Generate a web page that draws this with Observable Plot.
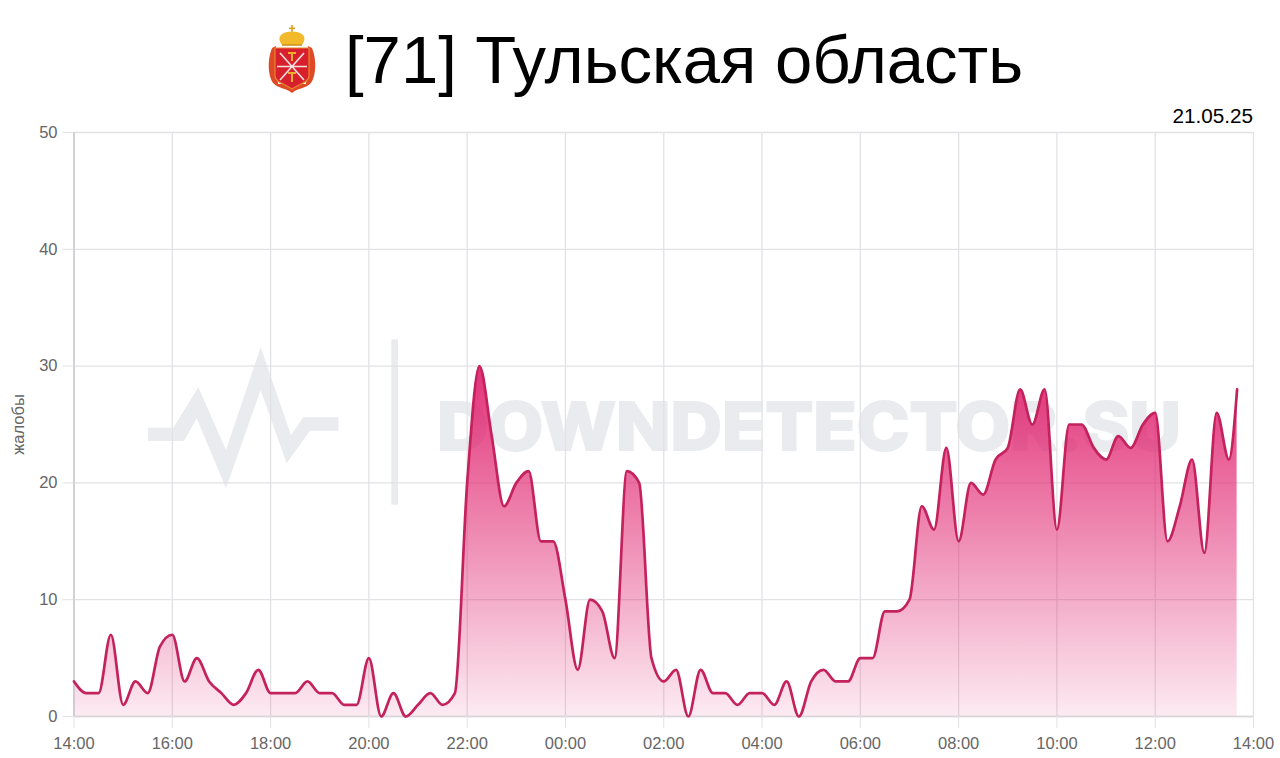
<!DOCTYPE html>
<html lang="ru">
<head>
<meta charset="utf-8">
<script src="https://cdn.jsdelivr.net/npm/d3@7"></script>
<script src="https://cdn.jsdelivr.net/npm/@observablehq/plot@0.6"></script>
<style>
html,body{margin:0;padding:0;background:#fff;overflow:hidden;font-family:"Liberation Sans",Arial,sans-serif}
#page{position:relative;width:1280px;height:758px}
#head{height:100px;position:relative}
#title{position:absolute;left:345px;top:16px;font-size:67px;line-height:88px;white-space:nowrap;color:#000}
#emblem{position:absolute;left:262px;top:22px;width:60px;height:74px}
#date{position:absolute;right:27px;top:104px;font-size:20.7px;line-height:24px;color:#000;z-index:3}
#mark{position:absolute;left:0;top:0;width:1280px;height:758px}
#chart{position:absolute;left:0;top:100px}
</style>
</head>
<body>
<div id="page">
<svg id="mark" viewBox="0 0 1280 758">
  <g fill="#e9ebef" transform="translate(130,330) scale(0.3333)">
    <polygon points="54,293 130,293 205,172 288,360 392,52 483,315 520,262 625,262 625,302 540,302 470,400 392,180 288,475 200,265 162,333 54,333"/>
    <rect x="784" y="28" width="20" height="496"/>
  </g>
  <text x="437" y="450" fill="#e9ebef" stroke="#e9ebef" stroke-width="2" font-family="Inter" font-weight="800" font-size="66" textLength="744" lengthAdjust="spacingAndGlyphs">DOWNDETECTOR.SU</text>
</svg>
<div id="head">
  <svg id="emblem" viewBox="0 0 60 74">
    <rect x="29.2" y="3" width="1.6" height="9" fill="#e0a020"/><rect x="27" y="5.5" width="6" height="1.6" fill="#e0a020"/>
    <path d="M20 23 C13 14 22 9 30 10 C38 9 47 14 40 23Z" fill="#f2b92a"/>
    <path d="M20 23 H40" stroke="#c8901a" stroke-width="1.5"/>
    <path d="M10 26 C5 38 6 54 11 61 C17 67 25 66 30 71 C35 66 43 67 49 61 C54 54 55 38 50 26 L46 24 L44 62 L16 62 L14 24Z" fill="#df4a26"/>
    <path d="M13 26 H47 V54 C47 60 37 62 30 67 C23 62 13 60 13 54Z" fill="#d81f2e"/>
    <path d="M13 26 H47 V54 C47 60 37 62 30 67 C23 62 13 60 13 54Z" fill="none" stroke="#e8852c" stroke-width="1.2"/>
    <path d="M18 31 L42 58 M42 31 L18 58 M15 44.5 H45" stroke="#f6e2dc" stroke-width="1.6"/>
    <path d="M26 31 H34 M30 31 V39 M26 51 H34 M30 51 V60" stroke="#f0ae2a" stroke-width="2"/>
  </svg>
  <div id="title">[71] Тульская область</div>
</div>
<div id="date">21.05.25</div>
<div id="chart"></div>
</div>
<script>
const times = ["14:00","14:15","14:30","14:45","15:00","15:15","15:30","15:45","16:00","16:15","16:30","16:45",
"17:00","17:15","17:30","17:45","18:00","18:15","18:30","18:45","19:00","19:15","19:30","19:45",
"20:00","20:15","20:30","20:45","21:00","21:15","21:30","21:45","22:00","22:15","22:30","22:45",
"23:00","23:15","23:30","23:45","00:00","00:15","00:30","00:45","01:00","01:15","01:30","01:45",
"02:00","02:15","02:30","02:45","03:00","03:15","03:30","03:45","04:00","04:15","04:30","04:45",
"05:00","05:15","05:30","05:45","06:00","06:15","06:30","06:45","07:00","07:15","07:30","07:45",
"08:00","08:15","08:30","08:45","09:00","09:15","09:30","09:45","10:00","10:15","10:30","10:45",
"11:00","11:15","11:30","11:45","12:00","12:15","12:30","12:45","13:00","13:15","13:30","13:40"];
const complaints = [3,2,2,7,1,3,2,6,7,3,5,3,
2,1,2,4,2,2,2,3,2,2,1,1,
5,0,2,0,1,2,1,2,20,30,24,18,
20,21,15,15,10,4,10,9,5,21,20,5,
3,4,0,4,2,2,1,2,2,1,3,0,
3,4,3,3,5,5,9,9,10,18,16,23,
15,20,19,22,23,28,25,28,16,25,25,23,
22,24,23,25,26,15,18,22,14,26,22,28];
const tickLabels = ["14:00","16:00","18:00","20:00","22:00","00:00","02:00","04:00","06:00","08:00","10:00","12:00","14:00"];
const yTicks = [0,10,20,30,40,50];
const startHour = 14;

const toDate = (label, nextDay) => {
  const [h, m] = label.split(":").map(Number);
  return new Date(Date.UTC(2025, 4, (h < startHour || nextDay) ? 21 : 20, h, m));
};
const data = times.map((t, i) => ({time: toDate(t), value: complaints[i]}));
const xTicks = tickLabels.map((t, i) => toDate(t, i === tickLabels.length - 1));
const fmt = d3.utcFormat("%H:%M");
const labelCol = "#666", gridCol = "#e2e2e6";

const gradient = () => {
  const defs = d3.create("svg:defs");
  const g = defs.append("linearGradient").attr("id","fillGrad").attr("x1",0).attr("y1",0).attr("x2",0).attr("y2",1);
  g.append("stop").attr("offset","0%").attr("stop-color","#e01f6c").attr("stop-opacity",0.92);
  g.append("stop").attr("offset","100%").attr("stop-color","#e01f6c").attr("stop-opacity",0.09);
  return defs.node();
};

const plot = Plot.plot({
  width: 1280, height: 658,
  marginLeft: 73.5, marginRight: 27, marginTop: 32, marginBottom: 42,
  style: {background: "transparent", fontFamily: "'Liberation Sans', Arial, sans-serif"},
  x: {type: "utc", domain: [xTicks[0], xTicks[xTicks.length - 1]]},
  y: {domain: [0, 50]},
  marks: [
    gradient,
    Plot.gridX(xTicks, {stroke: gridCol, strokeOpacity: 1, strokeWidth: 1.3}),
    Plot.gridY(yTicks, {stroke: gridCol, strokeOpacity: 1, strokeWidth: 1.3}),
    Plot.areaY(data, {x: "time", y: "value", curve: "monotone-x", fill: "url(#fillGrad)"}),
    Plot.ruleY([0], {stroke: "#d9d4d8", strokeWidth: 1.5}),
    Plot.ruleX(xTicks.slice(0, 1), {stroke: "#c4c4c8", strokeWidth: 1.3}),
    Plot.lineY(data, {x: "time", y: "value", curve: "monotone-x", stroke: "#c4225d", strokeWidth: 2.7}),
    Plot.axisX({ticks: xTicks, tickFormat: fmt, label: null, tickSize: 12, tickPadding: 9, fontSize: 16.5, fill: labelCol, stroke: gridCol}),
    Plot.axisY({ticks: yTicks, label: null, tickSize: 11, tickPadding: 5.5, fontSize: 16.5, fill: labelCol, stroke: gridCol}),
    Plot.axisY({ticks: [], label: "жалобы", labelAnchor: "center", labelArrow: "none", labelOffset: 62, fontSize: 16.5, fill: labelCol})
  ]
});
document.getElementById("chart").append(plot);
</script>
</body>
</html>
